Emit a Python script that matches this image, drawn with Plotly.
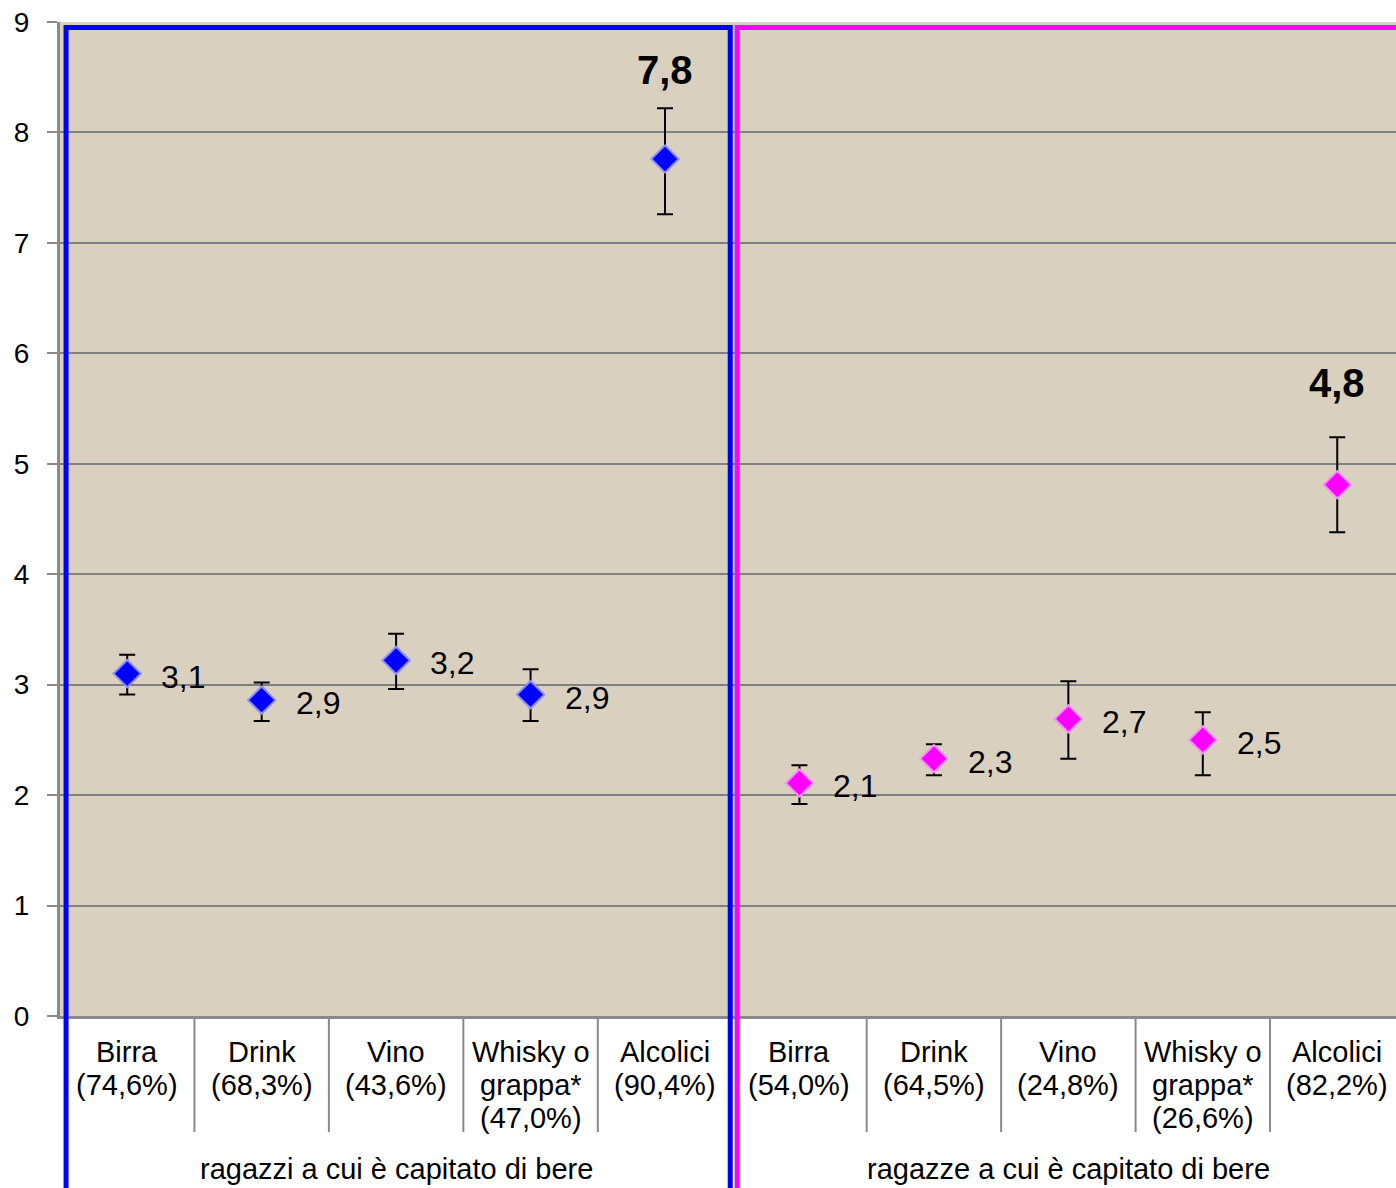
import plotly.graph_objects as go

# ---- data ----
categories = [["Birra"], ["Drink"], ["Vino"], ["Whisky o", "grappa*"], ["Alcolici"]]
pct_boys = ["(74,6%)", "(68,3%)", "(43,6%)", "(47,0%)", "(90,4%)"]
pct_girls = ["(54,0%)", "(64,5%)", "(24,8%)", "(26,6%)", "(82,2%)"]
boys_values = [3.10, 2.86, 3.22, 2.91, 7.76]
boys_hi = [3.27, 3.02, 3.46, 3.14, 8.22]
boys_lo = [2.91, 2.67, 2.96, 2.67, 7.26]
girls_values = [2.11, 2.33, 2.69, 2.50, 4.81]
girls_hi = [2.27, 2.46, 3.03, 2.75, 5.24]
girls_lo = [1.92, 2.18, 2.33, 2.18, 4.38]
boys_labels = ["3,1", "2,9", "3,2", "2,9", "7,8"]
girls_labels = ["2,1", "2,3", "2,7", "2,5", "4,8"]
group_titles = ["ragazzi a cui è capitato di bere", "ragazze a cui è capitato di bere"]
y_ticks = [0, 1, 2, 3, 4, 5, 6, 7, 8, 9]

FONT = "Liberation Sans, Arial, sans-serif"
W, H = 1396, 1188
PLOT_LEFT, PLOT_TOP, PLOT_BOTTOM = 60, 22, 1016  # in picture pixels
ML = PLOT_LEFT
MT = PLOT_TOP
MB = H - PLOT_BOTTOM
MR = 0
plot_h = PLOT_BOTTOM - PLOT_TOP
X_MAX = 9.937  # plot continues past the right edge of the picture

def py(px):
    """picture pixel row -> paper y"""
    return (PLOT_BOTTOM - px) / plot_h

n = len(categories)
xb = [i + 0.5 for i in range(n)]
xg = [n + i + 0.5 for i in range(n)]

fig = go.Figure()

def add_series(xs, vals, hi, lo, fill, edge):
    fig.add_trace(go.Scatter(
        x=xs, y=vals, mode="markers",
        marker=dict(symbol="diamond", size=21, color=fill, line=dict(color=edge, width=2)),
        error_y=dict(type="data", symmetric=False,
                     array=[h - v for h, v in zip(hi, vals)],
                     arrayminus=[v - l for v, l in zip(vals, lo)],
                     color="black", thickness=2, width=8),
        showlegend=False, hoverinfo="skip", cliponaxis=False))

add_series(xb, boys_values, boys_hi, boys_lo, "#0000ff", "#8c8cff")
add_series(xg, girls_values, girls_hi, girls_lo, "#ff00ff", "#ff8cff")

annotations = []
def add_labels(xs, vals, hi, labels):
    for i, (x, v, h, t) in enumerate(zip(xs, vals, hi, labels)):
        if i == len(xs) - 1:
            annotations.append(dict(x=x, y=h, xref="x", yref="y", text="<b>" + t + "</b>",
                                    showarrow=False, xanchor="center", yanchor="bottom",
                                    yshift=14 if v > 6 else 30,
                                    font=dict(family=FONT, size=40, color="black")))
        else:
            annotations.append(dict(x=x, y=v, xref="x", yref="y", text=t, showarrow=False,
                                    xanchor="left", yanchor="middle", xshift=32, yshift=-3,
                                    font=dict(family=FONT, size=32, color="black")))

add_labels(xb, boys_values, boys_hi, boys_labels)
add_labels(xg, girls_values, girls_hi, girls_labels)

LINE_ROWS = [1052, 1085, 1118]
for xs, pcts in ((xb, pct_boys), (xg, pct_girls)):
    for x, c, p in zip(xs, categories, pcts):
        for row, line in zip(LINE_ROWS, c + [p]):
            annotations.append(dict(x=x, y=py(row), xref="x", yref="paper",
                                    text=line, showarrow=False,
                                    xanchor="center", yanchor="middle",
                                    font=dict(family=FONT, size=29, color="black")))

for k, t in enumerate(group_titles):
    annotations.append(dict(x=k * n + n / 2, y=py(1169), xref="x", yref="paper", text=t,
                            showarrow=False, xanchor="center", yanchor="middle",
                            font=dict(family=FONT, size=29, color="black")))

shapes = []
for b in range(1, 2 * n):
    if b == n:
        continue
    shapes.append(dict(type="line", xref="x", yref="paper", x0=b, x1=b,
                       y0=0, y1=py(1132), line=dict(color="#8a8a8a", width=2)))

shapes.append(dict(type="rect", xref="x", yref="paper", x0=0.045, x1=4.985,
                   y0=py(1200), y1=py(27.5), line=dict(color="#0000ff", width=5)))
shapes.append(dict(type="rect", xref="x", yref="paper", x0=5.037, x1=10.2,
                   y0=py(1200), y1=py(27.5), line=dict(color="#ff00ff", width=5)))

fig.update_layout(
    width=W, height=H,
    margin=dict(l=ML, r=MR, t=MT, b=MB, pad=0),
    paper_bgcolor="white",
    plot_bgcolor="#d9d0c0",
    annotations=annotations,
    shapes=shapes,
    xaxis=dict(range=[0, X_MAX], showticklabels=False, showgrid=False, zeroline=False,
               showline=True, linecolor="#8a8a8a", linewidth=3, ticks=""),
    yaxis=dict(range=[0, 9], tickvals=y_ticks, ticktext=[str(v) for v in y_ticks],
               showgrid=True, gridcolor="#808080", gridwidth=2, zeroline=False,
               showline=True, linecolor="#8a8a8a", linewidth=3,
               ticks="outside", ticklen=10, tickcolor="#8a8a8a", tickwidth=2,
               ticklabelstandoff=12, ticklabeloverflow="allow",
               tickfont=dict(family=FONT, size=28, color="black")),
)

fig.write_html("out.html",
               config={"displayModeBar": False},
               post_script="document.body.style.margin='0px';"
                           "document.body.style.overflow='hidden';")
